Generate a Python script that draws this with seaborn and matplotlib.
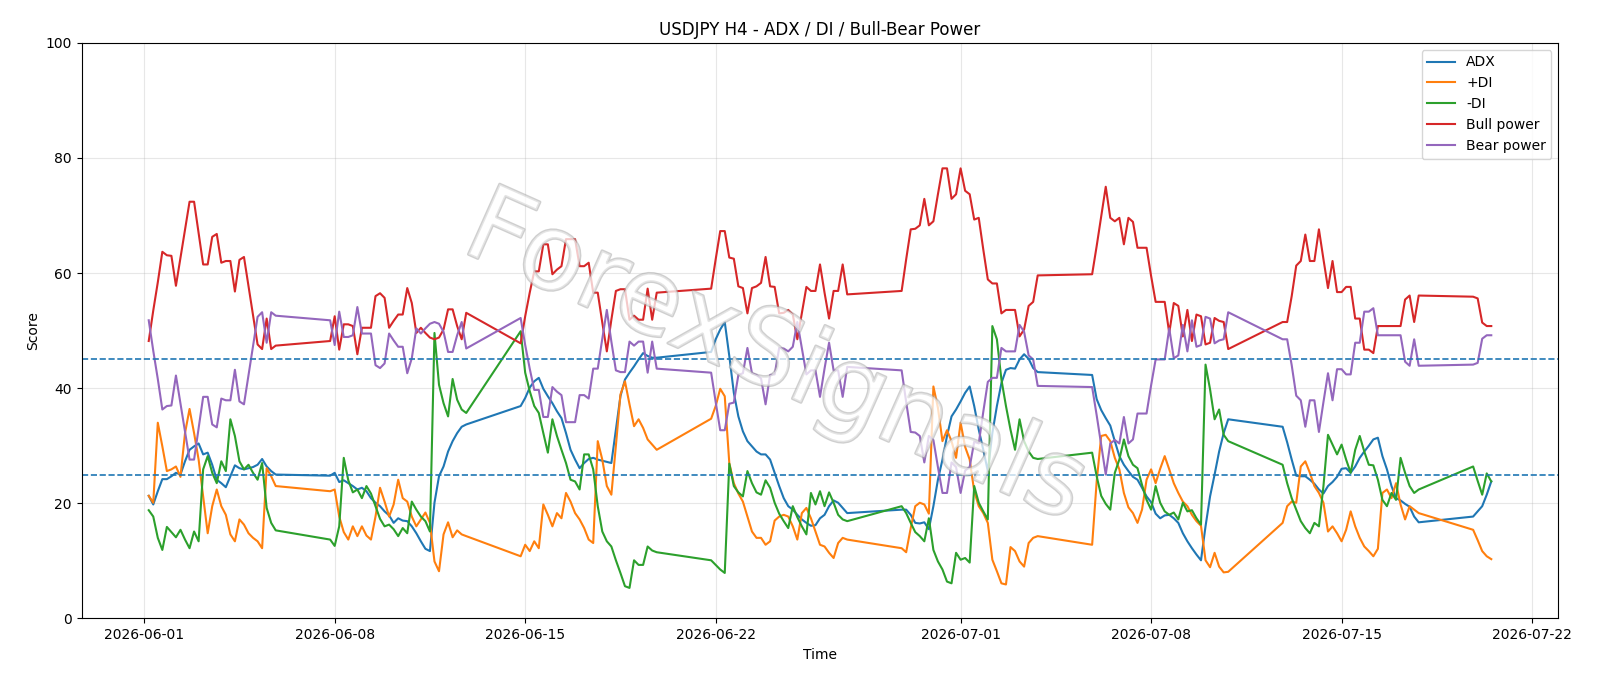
import pandas as pd
import matplotlib
matplotlib.use("Agg")
import matplotlib.pyplot as plt
import matplotlib.patheffects as pe
import seaborn as sns

# H4 bars: weekdays plus the Sunday 20:00 open bar
times = pd.date_range("2026-06-01 04:00", "2026-07-20 12:00", freq="4h")
times = times[(times.dayofweek < 5) | ((times.dayofweek == 6) & (times.hour == 20))]

adx = [
    # week 1
    21.3, 19.8, 22.1, 24.2, 24.2, 24.7, 25.3, 25.0, 27.3, 29.3, 29.9, 30.4, 28.5, 28.8, 26.7,
    24.1, 23.5, 22.8, 24.7, 26.6, 26.1, 25.9, 26.1, 26.3, 26.7, 27.7, 26.4, 25.6, 25.0,
    # week 2
    24.8, 25.3, 23.7, 24.0, 23.5, 23.0, 22.4, 22.7, 22.1, 20.9, 20.1, 19.5, 18.6, 17.9, 16.6, 17.4,
    17.0, 16.9, 16.0, 14.8, 13.4, 12.1, 11.7, 20.1, 24.7, 26.4, 29.0, 30.8, 32.2, 33.3, 33.7,
    # week 3
    36.9, 38.3, 40.1, 41.2, 41.8, 39.9, 38.6, 37.4, 36.0, 34.8, 32.2, 29.3, 27.6, 26.1, 27.0, 27.7,
    27.9, 27.6, 27.4, 27.2, 27.0, 32.8, 38.6, 41.5, 42.7, 43.8, 45.0, 46.1, 45.6, 45.3, 45.3,
    # week 4
    46.3, 48.5, 50.2, 51.5, 45.6, 39.2, 35.1, 32.5, 30.8, 29.9, 29.0, 28.5, 28.5, 27.6, 25.3, 23.0,
    20.9, 19.5, 18.9, 18.0, 17.2, 16.6, 16.1, 16.2, 17.4, 18.0, 19.5, 20.5, 20.1, 19.2, 18.3,
    # week 5
    18.9, 18.9, 18.0, 16.6, 16.5, 16.7, 15.5, 19.5, 24.1, 27.6, 31.7, 35.1, 36.3, 37.7, 39.2, 40.3,
    36.9, 32.8, 29.3, 25.6, 32.2, 36.9, 40.9, 43.2, 43.5, 43.4, 45.0, 45.9, 45.1, 43.5, 42.8,
    # week 6
    42.3, 38.1, 36.2, 34.8, 33.5, 30.8, 28.2, 26.7, 25.6, 24.6, 24.1, 22.7, 21.2, 20.2, 18.2, 17.4,
    17.9, 18.0, 17.4, 16.6, 14.8, 13.4, 12.2, 11.1, 10.1, 16.0, 21.2, 25.0, 29.0, 32.2, 34.6,
    # week 7
    33.3, 30.6, 27.6, 24.8, 24.7, 24.7, 24.1, 23.4, 22.4, 21.7, 23.0, 23.7, 24.6, 26.0, 26.1, 25.3,
    26.4, 27.9, 29.0, 30.0, 31.1, 31.4, 28.2, 25.9, 23.0, 20.9, 20.5, 19.9, 19.4, 17.7, 16.7,
    # last open
    17.7, 18.6, 19.5, 21.5, 23.8,
]

plus_di = [
    21.3, 20.1, 34.0, 29.9, 25.6, 25.9, 26.4, 24.6, 32.2, 36.4, 32.2, 27.6, 21.2, 14.8, 19.5,
    22.4, 19.5, 18.0, 14.6, 13.4, 17.2, 16.3, 14.8, 14.0, 13.4, 12.2, 26.1, 24.7, 23.0,
    22.1, 22.4, 17.7, 15.0, 13.7, 16.0, 14.3, 16.0, 14.4, 13.7, 17.7, 22.7, 20.3, 17.7, 19.8, 24.1,
    20.9, 20.3, 17.7, 16.0, 17.2, 18.4, 16.6, 9.9, 8.2, 14.6, 16.7, 14.1, 15.3, 14.6, 14.3,
    10.8, 12.8, 11.7, 13.4, 12.2, 19.8, 18.0, 16.0, 18.3, 17.4, 21.8, 20.3, 18.3, 17.2, 15.7, 13.7,
    13.1, 30.8, 27.6, 23.0, 21.5, 30.0, 38.9, 41.2, 37.2, 33.4, 34.6, 33.1, 31.1, 30.2, 29.3,
    34.7, 36.9, 39.9, 38.6, 27.0, 23.5, 21.7, 20.3, 17.7, 15.1, 14.0, 14.0, 12.8, 13.4, 17.0, 17.7,
    18.0, 17.7, 16.0, 13.7, 18.3, 19.2, 17.4, 15.1, 12.8, 12.5, 11.4, 10.5, 13.1, 14.0, 13.7,
    12.2, 11.5, 15.7, 19.5, 20.1, 19.8, 18.2, 40.3, 36.6, 30.8, 32.7, 30.8, 27.9, 34.0, 29.8, 27.6,
    22.1, 19.5, 18.3, 16.6, 10.2, 8.2, 6.1, 5.9, 12.4, 11.7, 9.9, 9.0, 13.1, 14.0, 14.3,
    12.8, 23.8, 31.7, 31.9, 30.8, 27.9, 25.9, 21.8, 19.3, 18.3, 16.6, 18.9, 24.1, 25.9, 23.5, 26.0,
    28.2, 25.9, 23.5, 21.8, 20.3, 19.5, 18.0, 16.9, 16.1, 10.1, 8.9, 11.4, 9.0, 8.0, 8.1,
    16.6, 19.5, 20.3, 20.1, 26.4, 27.3, 25.3, 23.0, 21.8, 20.1, 15.1, 16.0, 14.8, 13.4, 15.4, 18.6,
    16.0, 14.0, 12.5, 11.7, 10.8, 12.1, 21.8, 22.4, 20.9, 23.5, 19.8, 17.2, 19.5, 18.9, 18.3,
    15.4, 13.6, 11.7, 10.8, 10.3,
]

minus_di = [
    18.8, 17.7, 14.0, 11.9, 15.9, 15.0, 14.1, 15.4, 13.7, 12.2, 15.1, 13.4, 25.9, 28.2, 25.3,
    23.5, 27.3, 25.6, 34.6, 31.7, 27.3, 25.9, 26.7, 25.3, 24.1, 27.0, 19.2, 16.6, 15.3,
    13.7, 12.6, 16.0, 27.9, 24.0, 21.9, 22.4, 20.9, 23.0, 21.7, 19.5, 17.3, 16.0, 16.3, 15.5, 14.3,
    15.7, 14.8, 20.3, 18.9, 17.7, 16.9, 15.1, 49.6, 40.6, 37.4, 35.1, 41.6, 38.0, 36.3, 35.7,
    49.9, 42.7, 39.5, 36.9, 35.7, 32.2, 28.8, 34.6, 31.7, 29.3, 27.0, 24.1, 23.8, 22.4, 28.5, 28.5,
    25.9, 19.5, 15.1, 13.4, 12.5, 10.1, 7.9, 5.6, 5.3, 10.1, 9.3, 9.3, 12.5, 11.8, 11.5,
    10.1, 9.3, 8.5, 7.9, 26.9, 23.0, 21.9, 21.2, 25.6, 23.5, 21.9, 21.5, 24.0, 22.7, 20.1, 18.2,
    16.9, 15.7, 19.5, 17.6, 16.0, 14.6, 21.8, 19.8, 22.1, 19.5, 21.9, 20.1, 18.0, 17.2, 16.9,
    19.5, 18.3, 16.6, 15.0, 14.3, 13.4, 17.4, 11.9, 9.9, 8.5, 6.4, 6.1, 11.4, 10.2, 10.5, 9.7,
    23.0, 20.1, 18.6, 17.2, 50.8, 48.5, 41.5, 36.9, 32.8, 29.3, 34.6, 30.8, 29.0, 27.9, 27.7,
    28.8, 24.7, 21.3, 19.9, 18.9, 25.3, 27.6, 31.1, 28.2, 26.7, 26.1, 23.2, 20.6, 18.9, 23.0, 20.1,
    18.6, 18.0, 18.4, 17.2, 20.1, 18.6, 18.8, 17.4, 16.3, 44.1, 39.8, 34.6, 36.3, 31.9, 30.8,
    26.7, 23.5, 20.9, 18.9, 16.9, 15.7, 14.8, 16.6, 16.0, 23.0, 31.9, 30.2, 28.5, 30.2, 27.6, 25.3,
    29.3, 31.7, 29.0, 26.7, 26.6, 24.1, 20.6, 19.5, 21.8, 20.6, 27.9, 25.3, 23.0, 21.8, 22.4,
    26.4, 23.9, 21.5, 25.2, 23.8,
]

bull = [
    48.2, 53.5, 58.4, 63.7, 63.1, 63.0, 57.8, 62.7, 67.6, 72.4, 72.4, 67.0, 61.5, 61.5, 66.3,
    66.8, 61.8, 62.1, 62.1, 56.8, 62.3, 62.8, 57.7, 52.5, 47.6, 46.8, 52.1, 46.8, 47.4,
    48.2, 52.5, 46.7, 51.1, 51.1, 50.8, 45.9, 50.5, 50.5, 50.5, 56.0, 56.5, 55.7, 50.5, 51.7, 52.8,
    52.8, 57.4, 54.8, 49.6, 50.5, 49.6, 48.8, 48.5, 48.8, 50.2, 53.7, 53.7, 50.8, 48.5, 53.1,
    47.8, 52.5, 56.6, 60.3, 60.3, 65.0, 65.0, 59.8, 60.6, 61.2, 65.9, 65.9, 65.9, 61.2, 61.2, 61.8,
    56.6, 56.6, 51.4, 46.4, 51.9, 56.9, 57.2, 57.2, 51.9, 52.6, 51.9, 51.9, 57.3, 51.9, 56.6,
    57.3, 62.4, 67.3, 67.3, 62.7, 62.5, 57.7, 57.4, 53.0, 57.4, 57.7, 58.3, 62.8, 57.7, 57.6, 53.0,
    53.1, 53.6, 52.8, 48.5, 53.1, 57.6, 56.9, 56.9, 61.5, 56.6, 52.1, 56.9, 56.9, 61.5, 56.3,
    56.9, 62.4, 67.6, 67.7, 68.3, 72.9, 68.3, 69.0, 73.7, 78.2, 78.2, 72.9, 73.7, 78.2, 74.3, 73.7,
    69.3, 69.6, 64.1, 58.9, 58.2, 58.2, 53.0, 53.6, 53.6, 53.6, 49.0, 50.2, 54.3, 55.0, 59.6,
    59.8, 64.7, 69.9, 75.0, 69.6, 69.0, 69.6, 65.0, 69.6, 68.9, 64.4, 64.4, 64.4, 59.5, 55.0, 55.0,
    55.0, 49.6, 54.8, 54.3, 49.0, 53.6, 48.2, 52.8, 52.5, 47.6, 47.9, 52.2, 51.7, 51.5, 46.8,
    51.5, 51.5, 56.0, 61.3, 62.1, 66.7, 62.1, 62.1, 67.6, 62.4, 57.4, 62.1, 56.7, 56.7, 57.6, 57.6,
    52.1, 52.1, 46.7, 46.7, 46.1, 50.8, 50.8, 50.8, 50.8, 50.8, 50.8, 55.4, 56.1, 51.5, 56.1,
    55.9, 55.6, 51.4, 50.8, 50.8,
]

bear = [
    51.8, 46.5, 41.6, 36.3, 36.9, 37.0, 42.2, 37.3, 32.4, 27.6, 27.6, 33.0, 38.5, 38.5, 33.7,
    33.2, 38.2, 37.9, 37.9, 43.2, 37.7, 37.2, 42.3, 47.5, 52.4, 53.2, 47.9, 53.2, 52.6,
    51.8, 47.5, 53.3, 48.9, 48.9, 49.2, 54.1, 49.5, 49.5, 49.5, 44.0, 43.5, 44.3, 49.5, 48.3, 47.2,
    47.2, 42.6, 45.2, 50.4, 49.5, 50.4, 51.2, 51.5, 51.2, 49.8, 46.3, 46.3, 49.2, 51.5, 46.9,
    52.2, 47.5, 43.4, 39.7, 39.7, 35.0, 35.0, 40.2, 39.4, 38.8, 34.1, 34.1, 34.1, 38.8, 38.8, 38.2,
    43.4, 43.4, 48.6, 53.6, 48.1, 43.1, 42.8, 42.8, 48.1, 47.4, 48.1, 48.1, 42.7, 48.1, 43.4,
    42.7, 37.6, 32.7, 32.7, 37.3, 37.5, 42.3, 42.6, 47.0, 42.6, 42.3, 41.7, 37.2, 42.3, 42.4, 47.0,
    46.9, 46.4, 47.2, 51.5, 46.9, 42.4, 43.1, 43.1, 38.5, 43.4, 47.9, 43.1, 43.1, 38.5, 43.7,
    43.1, 37.6, 32.4, 32.3, 31.7, 27.1, 31.7, 31.0, 26.3, 21.8, 21.8, 27.1, 26.3, 21.8, 25.7, 26.3,
    30.7, 30.4, 35.9, 41.1, 41.8, 41.8, 47.0, 46.4, 46.4, 46.4, 51.0, 49.8, 45.7, 45.0, 40.4,
    40.2, 35.3, 30.1, 25.0, 30.4, 31.0, 30.4, 35.0, 30.4, 31.1, 35.6, 35.6, 35.6, 40.5, 45.0, 45.0,
    45.0, 50.4, 45.2, 45.7, 51.0, 46.4, 51.8, 47.2, 47.5, 52.4, 52.1, 47.8, 48.3, 48.5, 53.2,
    48.5, 48.5, 44.0, 38.7, 37.9, 33.3, 37.9, 37.9, 32.4, 37.6, 42.6, 37.9, 43.3, 43.3, 42.4, 42.4,
    47.9, 47.9, 53.3, 53.3, 53.9, 49.2, 49.2, 49.2, 49.2, 49.2, 49.2, 44.6, 43.9, 48.5, 43.9,
    44.1, 44.4, 48.6, 49.2, 49.2,
]

series = [
    ("ADX", adx, "tab:blue"),
    ("+DI", plus_di, "tab:orange"),
    ("-DI", minus_di, "tab:green"),
    ("Bull power", bull, "tab:red"),
    ("Bear power", bear, "tab:purple"),
]

fig, ax = plt.subplots(figsize=(16, 6.86), dpi=100)
fig.subplots_adjust(left=0.051, right=0.974, top=0.9375, bottom=0.0985)

for name, vals, col in series:
    sns.lineplot(x=times, y=vals, label=name, color=col, linewidth=1.5, ax=ax)

ax.axhline(45, color="tab:blue", linestyle="--", linewidth=1.2)
ax.axhline(25, color="tab:blue", linestyle="--", linewidth=1.2)

# watermark, faint hollow letters drawn over the lines
ax.text(0.47, 0.45, "ForexSignals", transform=ax.transAxes, fontsize=76,
        rotation=-24, ha="center", va="center", color="white", alpha=0.45, zorder=5,
        path_effects=[pe.Stroke(linewidth=2.0, foreground="#a8a8a8", alpha=0.55), pe.Normal()])

ax.set_ylim(0, 100)
ax.set_title("USDJPY H4 - ADX / DI / Bull-Bear Power")
ax.set_xlabel("Time")
ax.set_ylabel("Score")
ax.grid(True, alpha=0.3)
ax.legend(loc="upper right")

plt.savefig("out.png", dpi=100)
